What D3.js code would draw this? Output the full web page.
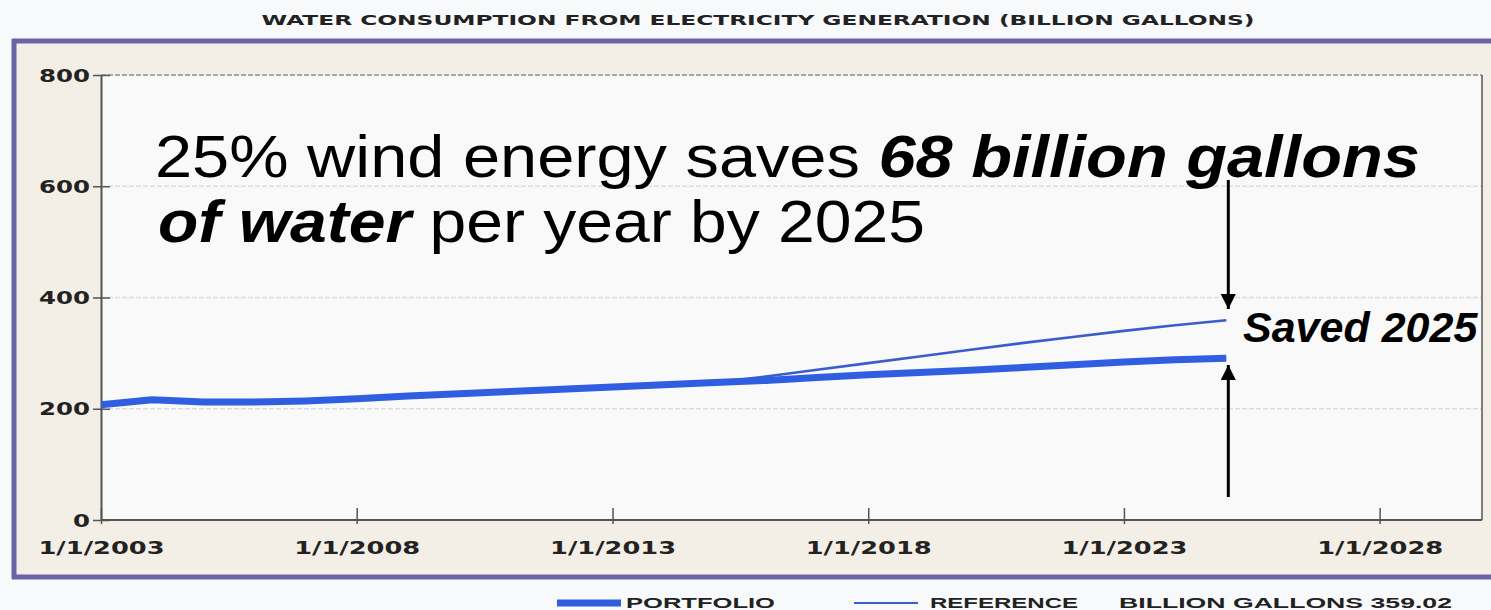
<!DOCTYPE html>
<html><head><meta charset="utf-8">
<script src="https://cdn.jsdelivr.net/npm/d3@7"></script>
<style>body{margin:0;background:#f8f9fb;} svg{display:block}</style>
</head><body>
<svg id="c" width="1491" height="610"></svg>
<script>
// ---- data ----
const years      = [2003,2004,2005,2006,2007,2008,2009,2010,2011,2012,2013,2014,2015,2016,2017,2018,2019,2020,2021,2022,2023,2024,2025];
const portfolio  = [207, 216, 212, 212, 214, 218, 223, 227, 231, 235, 239, 243, 247, 251, 256, 261, 265, 269, 274, 279, 284, 288, 291];
const reference  = [207, 216, 212, 212, 214, 218, 223, 227, 231, 235, 239, 243, 247, 258, 270, 282, 294, 306, 318, 329, 340, 350, 359.02];
const yTicks     = [0, 200, 400, 600, 800];
const xTickYears = [2003, 2008, 2013, 2018, 2023, 2028];
const xTickLabels= ["1/1/2003","1/1/2008","1/1/2013","1/1/2018","1/1/2023","1/1/2028"];
const titleText  = "WATER CONSUMPTION FROM ELECTRICITY GENERATION (BILLION GALLONS)";
const legendItems= ["PORTFOLIO", "REFERENCE"];
const legendValue= "BILLION GALLONS  359.02";

const svg = d3.select("#c");
const W = 1491, H = 610;
const plot = {l:101, r:1482, t:75, b:520};

const x = d3.scaleTime().domain([new Date(2003,0,1), new Date(2030,0,1)]).range([plot.l, plot.r]);
const y = d3.scaleLinear().domain([0, 800]).range([plot.b, plot.t]);

// background
svg.append("rect").attr("width", W).attr("height", H).attr("fill", "#f8f9fb");
// frame
svg.append("rect").attr("x", 14).attr("y", 41).attr("width", W).attr("height", 536).attr("fill", "#f3efe7");
const purple = "#6b62a8";
svg.append("line").attr("x1", 12).attr("x2", W).attr("y1", 41).attr("y2", 41).attr("stroke", purple).attr("stroke-width", 5);
svg.append("line").attr("x1", 12).attr("x2", W).attr("y1", 577).attr("y2", 577).attr("stroke", purple).attr("stroke-width", 5);
svg.append("line").attr("x1", 14).attr("x2", 14).attr("y1", 39).attr("y2", 579).attr("stroke", purple).attr("stroke-width", 5);

// plot background
svg.append("rect").attr("x", plot.l).attr("y", plot.t).attr("width", plot.r - plot.l).attr("height", plot.b - plot.t).attr("fill", "#f9f9f9");

// title
svg.append("text").attr("x", 758).attr("y", 25).attr("text-anchor", "middle")
  .attr("font-family", "DejaVu Sans, Verdana, sans-serif").attr("font-weight", "bold").attr("font-size", 14)
  .attr("fill", "#222").attr("textLength", 993).attr("lengthAdjust", "spacingAndGlyphs").text(titleText);

// gridlines
svg.append("g").selectAll("line").data(yTicks.filter(d => d > 0)).join("line")
  .attr("x1", plot.l).attr("x2", plot.r).attr("y1", d => y(d)).attr("y2", d => y(d))
  .attr("stroke", d => d === 800 ? "#a8a8a8" : "#dcdcdc").attr("stroke-width", d => d === 800 ? 2 : 1.5)
  .attr("stroke-dasharray", "5,2");

// right border
svg.append("line").attr("x1", plot.r).attr("x2", plot.r).attr("y1", plot.t).attr("y2", plot.b).attr("stroke", "#555").attr("stroke-width", 1.5);

// axes
const tickFont = "DejaVu Sans, Verdana, sans-serif";
const xAxis = d3.axisBottom(x)
  .tickValues(xTickYears.map(v => new Date(v, 0, 1)))
  .tickFormat((d, i) => xTickLabels[i])
  .tickSizeInner(-12).tickSizeOuter(0).tickPadding(22);
const gx = svg.append("g").attr("transform", `translate(0,${plot.b})`).call(xAxis);
gx.select(".domain").attr("stroke", "#555").attr("stroke-width", 2).attr("d", `M${plot.l},0H${plot.r}`);
gx.selectAll(".tick line").attr("stroke", "#555").attr("stroke-width", 1.5).attr("y1", 4);
gx.selectAll(".tick text").attr("font-family", tickFont).attr("font-weight", "bold").attr("font-size", 17)
  .attr("fill", "#222").attr("textLength", 126).attr("lengthAdjust", "spacingAndGlyphs");

const yAxis = d3.axisLeft(y).tickValues(yTicks).tickSizeInner(8).tickSizeOuter(0).tickPadding(3);
const gy = svg.append("g").attr("transform", `translate(${plot.l},0)`).call(yAxis);
gy.select(".domain").attr("stroke", "#555").attr("stroke-width", 2);
gy.selectAll(".tick line").attr("stroke", "#555").attr("stroke-width", 1.5).attr("x2", 9).attr("x1", -8);
gy.selectAll(".tick text").attr("font-family", tickFont).attr("font-weight", "bold").attr("font-size", 17)
  .attr("fill", "#222").attr("dy", "0.36em")
  .each(function(d){ d3.select(this).attr("textLength", String(d).length * 17).attr("lengthAdjust", "spacingAndGlyphs"); });

// lines
const line = d3.line().x((d, i) => x(new Date(years[i], 0, 1))).y(d => y(d)).curve(d3.curveLinear);
svg.append("path").datum(reference).attr("d", line).attr("fill", "none")
  .attr("stroke", "#3a5ccc").attr("stroke-width", 2.6);
svg.append("path").datum(portfolio).attr("d", line).attr("fill", "none")
  .attr("stroke", "#2f5fe0").attr("stroke-width", 7).attr("stroke-linejoin", "round");

// annotation text (stretched horizontally to the reference's widths)
const ann = svg.append("g").attr("font-family", "Liberation Sans, Arial, sans-serif").attr("fill", "#000");
function stretch(sel, x0, targetW) {
  const w = sel.node().getComputedTextLength();
  const sx = targetW / w;
  sel.attr("transform", `translate(${x0},0) scale(${sx},1) translate(${-x0},0)`);
}
const t1 = ann.append("text").attr("x", 155).attr("y", 177).attr("font-size", 59);
t1.append("tspan").text("25% wind energy saves ");
t1.append("tspan").attr("font-weight", "bold").attr("font-style", "italic").text("68 billion gallons");
stretch(t1, 155, 1265);
const t2 = ann.append("text").attr("x", 158).attr("y", 242).attr("font-size", 59);
t2.append("tspan").attr("font-weight", "bold").attr("font-style", "italic").text("of water");
t2.append("tspan").text(" per year by 2025");
stretch(t2, 158, 767);
ann.append("text").attr("x", 1243).attr("y", 342).attr("font-size", 43)
  .attr("font-weight", "bold").attr("font-style", "italic").text("Saved 2025");

// arrows
const defs = svg.append("defs");
defs.append("marker").attr("id", "ah").attr("viewBox", "0 0 10 10").attr("refX", 10).attr("refY", 5)
  .attr("markerWidth", 5).attr("markerHeight", 5).attr("markerUnits", "strokeWidth").attr("orient", "auto")
  .append("path").attr("d", "M0,0L10,5L0,10Z").attr("fill", "#000");
const ax = x(new Date(2025, 0, 1)) + 2;
svg.append("line").attr("x1", ax).attr("x2", ax).attr("y1", 180).attr("y2", 309)
  .attr("stroke", "#000").attr("stroke-width", 3).attr("marker-end", "url(#ah)");
svg.append("line").attr("x1", ax).attr("x2", ax).attr("y1", 497).attr("y2", 365)
  .attr("stroke", "#000").attr("stroke-width", 3).attr("marker-end", "url(#ah)");

// legend
const lg = svg.append("g").attr("font-family", "Liberation Sans Narrow, Liberation Sans, Arial, sans-serif")
  .attr("font-weight", "bold").attr("font-size", 14).attr("fill", "#222");
lg.append("line").attr("x1", 557).attr("x2", 621).attr("y1", 603).attr("y2", 603).attr("stroke", "#2f5fe0").attr("stroke-width", 7);
lg.append("text").attr("x", 626).attr("y", 608).attr("textLength", 149).attr("lengthAdjust", "spacingAndGlyphs").text(legendItems[0]);
lg.append("line").attr("x1", 854).attr("x2", 918).attr("y1", 603).attr("y2", 603).attr("stroke", "#3a5ccc").attr("stroke-width", 2.2);
lg.append("text").attr("x", 930).attr("y", 608).attr("textLength", 148).attr("lengthAdjust", "spacingAndGlyphs").text(legendItems[1]);
lg.append("text").attr("x", 1119).attr("y", 608).attr("textLength", 333).attr("lengthAdjust", "spacingAndGlyphs").text(legendValue);
</script>
</body></html>
